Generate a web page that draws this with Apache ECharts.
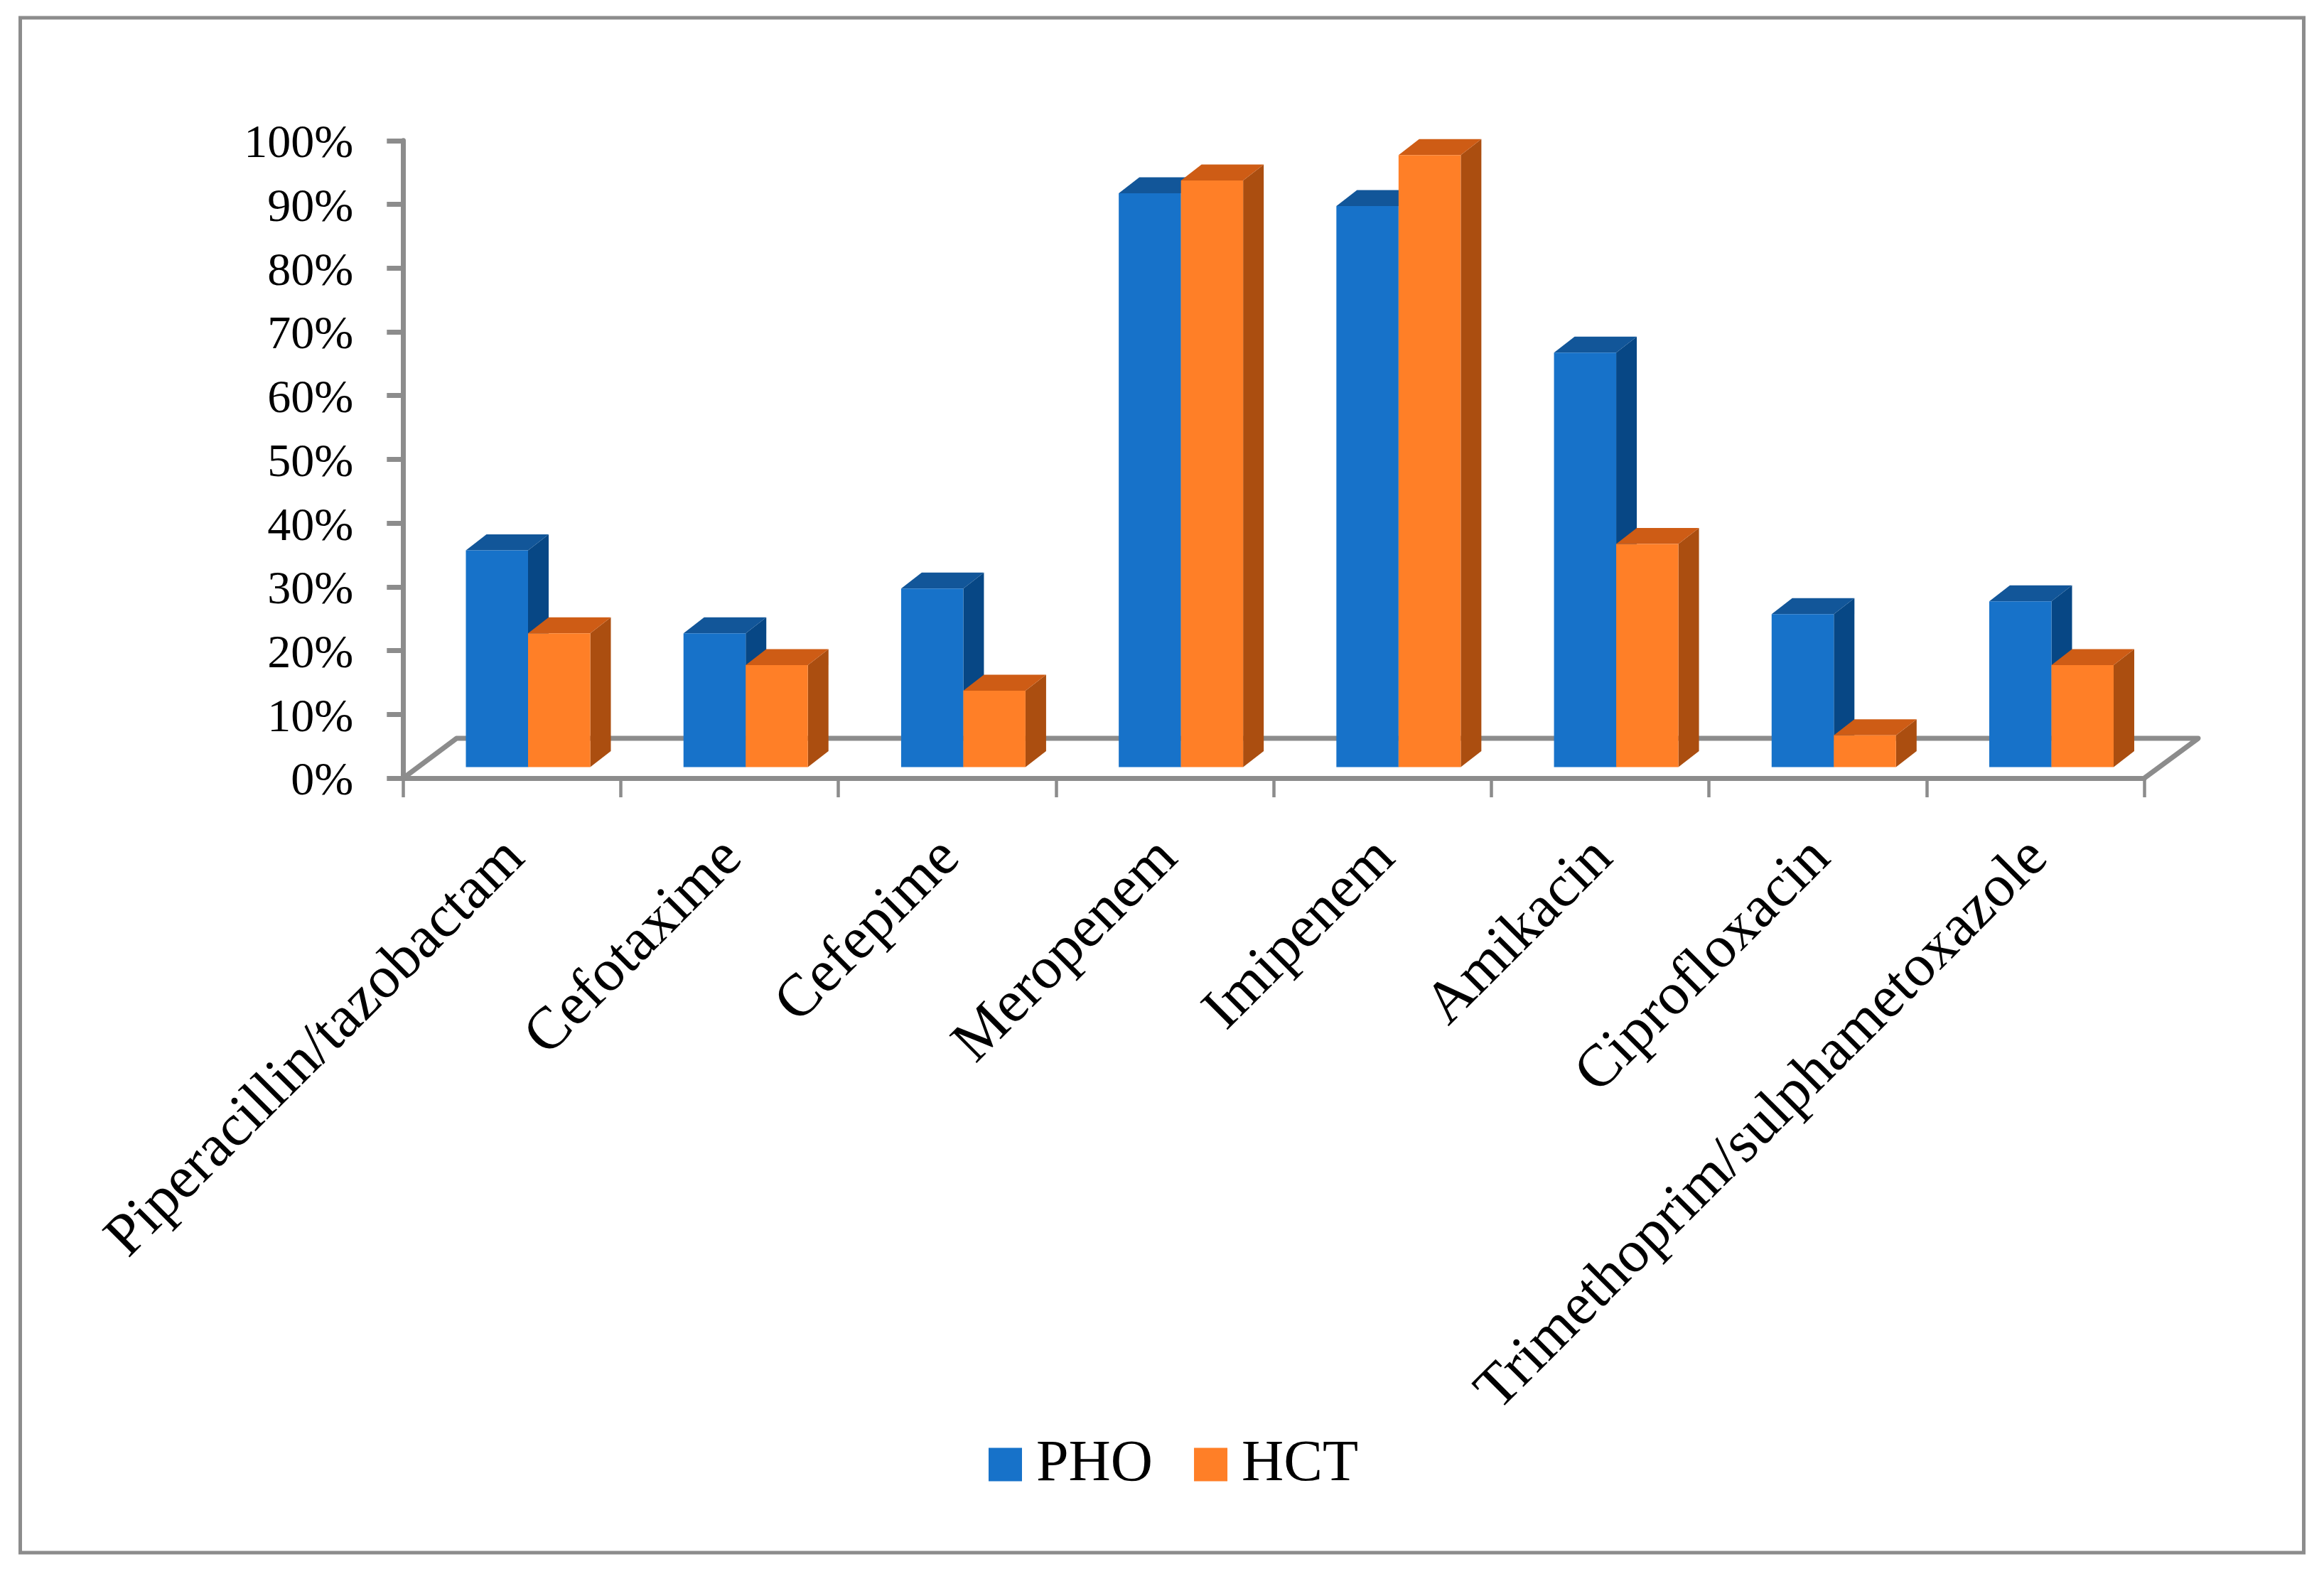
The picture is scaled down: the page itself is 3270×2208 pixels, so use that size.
<!DOCTYPE html>
<html>
<head>
<meta charset="utf-8">
<style>html,body{margin:0;padding:0;background:#fff}#c{width:3270px;height:2208px}</style>
<script src="https://cdn.jsdelivr.net/npm/echarts@6/dist/echarts.min.js"></script>
</head>
<body>
<div id="c"></div>
<script>
const categories = ['Piperacillin/tazobactam','Cefotaxime','Cefepime','Meropenem','Imipenem','Amikacin','Ciprofloxacin','Trimethoprim/sulphametoxazole'];
const phoValues = [34,21,28,90,88,65,24,26];
const hctValues = [21,16,12,92,96,35,5,16];
const GREY = '#8C8C8C';
const FONT = '"Liberation Serif", serif';
const BLUE = {front:'#1772C9', top:'#125699', side:'#074785'};
const ORANGE = {front:'#FF7F27', top:'#CE5C15', side:'#AB4E10'};
const BAR_W = 87.5, DEPTH_X = 29, DEPTH_Y = 22.5, SHIFT_X = 22.6, SHIFT_Y = 15.5;

function bar3d(palette, side) {
  return function (params, api) {
    const top = api.coord([api.value(0), api.value(1)]);
    const base = api.coord([api.value(0), 0]);
    const xc = base[0] + SHIFT_X;
    const x0 = side < 0 ? xc - BAR_W : xc;
    const x1 = x0 + BAR_W;
    const yb = base[1] - SHIFT_Y;
    const yt = top[1] - SHIFT_Y;
    const poly = (points, fill) => ({type:'polygon', shape:{points}, style:{fill}});
    return {type:'group', children:[
      poly([[x1,yb],[x1+DEPTH_X,yb-DEPTH_Y],[x1+DEPTH_X,yt-DEPTH_Y],[x1,yt]], palette.side),
      poly([[x0,yt],[x0+DEPTH_X,yt-DEPTH_Y],[x1+DEPTH_X,yt-DEPTH_Y],[x1,yt]], palette.top),
      poly([[x0,yb],[x1,yb],[x1,yt],[x0,yt]], palette.front)
    ]};
  };
}
function floor(params, api) {
  const cs = params.coordSys;
  const yf = cs.y + cs.height, xl = cs.x, xr = cs.x + cs.width;
  return {type:'polyline', shape:{points:[[xl,yf],[xl+75,yf-56],[xr+76,yf-56],[xr,yf]]},
    style:{stroke:GREY, lineWidth:7, fill:null, lineJoin:'round'}};
}
const chart = echarts.init(document.getElementById('c'), null, {renderer:'canvas'});
chart.setOption({
  animation:false,
  backgroundColor:'#fff',
  graphic:[{type:'rect', silent:true, z:0, shape:{x:28.5,y:25,width:3213,height:2160},
    style:{fill:null, stroke:GREY, lineWidth:5}}],
  grid:{left:567.3, top:197.8, width:2449.7, height:897.3, containLabel:false},
  legend:{data:['PHO','HCT'], left:1391, top:2020, padding:0, itemWidth:47, itemHeight:47, itemGap:58, icon:'rect',
    textStyle:{fontFamily:FONT, fontSize:82, color:'#000', padding:[0,0,0,15]}},
  xAxis:{type:'category', data:categories, boundaryGap:true,
    axisLine:{lineStyle:{color:GREY,width:7}},
    axisTick:{show:true,length:27,lineStyle:{color:GREY,width:4.5}},
    axisLabel:{interval:0, rotate:45, margin:95, color:'#000', fontFamily:FONT, fontSize:84, verticalAlign:'top', lineHeight:14}},
  yAxis:{type:'value', min:0, max:100, interval:10,
    splitLine:{show:false},
    axisLine:{show:true,lineStyle:{color:GREY,width:7}},
    axisTick:{show:true,length:23,lineStyle:{color:GREY,width:7}},
    axisLabel:{margin:70, color:'#000', fontFamily:FONT, fontSize:66, verticalAlign:'top', lineHeight:12, formatter:'{value}%'}},
  series:[
    {type:'custom', name:'floor', silent:true, z:1, renderItem:floor, data:[[0,0]], encode:{x:0,y:1}},
    {type:'custom', name:'PHO', z:2, itemStyle:{color:BLUE.front}, renderItem:bar3d(BLUE,-1),
      data:phoValues.map((v,i)=>[i,v]), encode:{x:0,y:1}},
    {type:'custom', name:'HCT', z:3, itemStyle:{color:ORANGE.front}, renderItem:bar3d(ORANGE,1),
      data:hctValues.map((v,i)=>[i,v]), encode:{x:0,y:1}}
  ]
});
</script>
</body>
</html>
